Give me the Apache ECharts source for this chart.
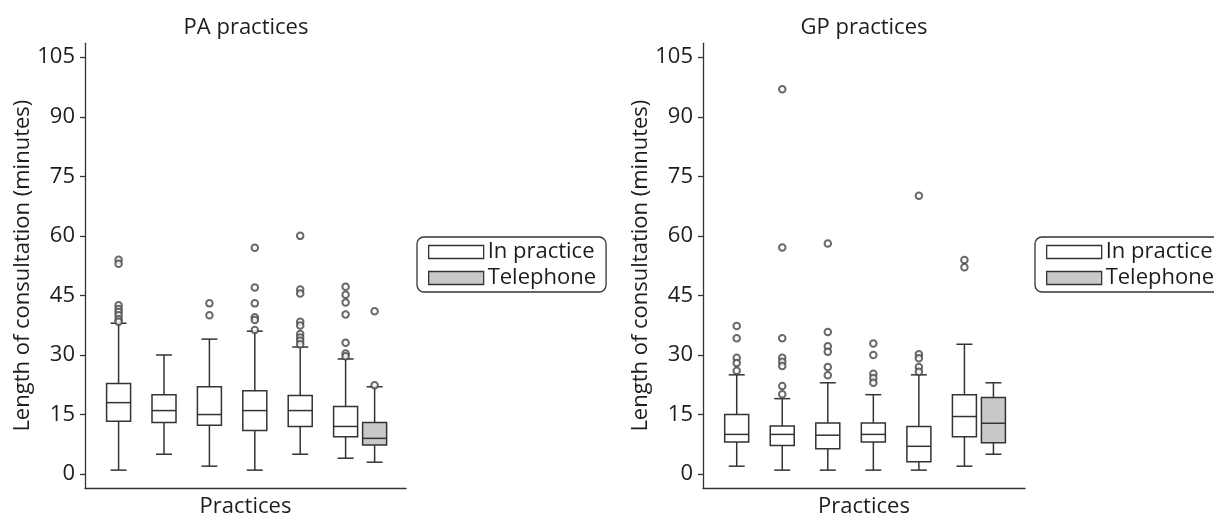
<!DOCTYPE html>
<html>
<head>
<meta charset="utf-8">
<script src="https://cdn.jsdelivr.net/npm/echarts@6/dist/echarts.min.js"></script>
<style>
  html, body { margin: 0; padding: 0; background: #fff; }
  #main { width: 1214px; height: 516px; }
</style>
</head>
<body>
<div id="main"></div>
<script>
	// practice numbers on the x axis
	var practices = [1, 2, 3, 4, 5, 6];
	var telPractices = [6];
	var yTicks = [0, 15, 30, 45, 60, 75, 90, 105];

	// box stats per practice: [low whisker, Q1, median, Q3, high whisker]
	var paInPractice = [
		[1, 13.3, 18, 22.8, 38],
		[5, 13, 16, 20, 30],
		[2, 12.3, 15, 22, 34],
		[1, 11, 16, 21, 36],
		[5, 12, 16, 19.8, 32],
		[4, 9.4, 12, 17, 29]
	];
	var paTelephone = [[3, 7.3, 9, 13, 22]];
	var paInOutliers = [
		[54, 53, 42.5, 41.6, 40.8, 40, 39, 38.4],
		[],
		[43, 40],
		[57, 47, 43, 39.5, 38.8, 36.3],
		[60, 46.5, 45.5, 38.4, 37.4, 35.3, 34.4, 33.6, 32.7],
		[47.2, 45.2, 43.2, 40.2, 33.1, 30.4, 29.7]
	];
	var paTelOutliers = [[41, 22.4]];

	var gpInPractice = [
		[2, 8.1, 10, 15, 25],
		[1, 7.2, 10, 12.1, 19],
		[1, 6.4, 9.8, 12.9, 23],
		[1, 8.1, 10, 12.9, 20],
		[1, 3.1, 7, 12, 25],
		[2, 9.4, 14.5, 20, 32.7]
	];
	var gpTelephone = [[5, 7.9, 12.8, 19.3, 23]];
	var gpInOutliers = [
		[37.3, 34.2, 29.3, 28, 26],
		[96.9, 57.1, 34.2, 29.3, 28.3, 27.2, 22.2, 20.1],
		[58.1, 35.8, 32.2, 30.8, 27, 24.9],
		[32.9, 30, 25.3, 24.2, 23],
		[70.1, 30.2, 29.2, 27, 25.8],
		[53.9, 52.1]
	];
	var gpTelOutliers = [[]];

	var INK = '#333';
	var TEXT = '#1e1c1d';
	var FONT = 'Open Sans';
	var FS = 22;
	var BOX_W = 24, CAP_W = 16, TEL_DODGE = 29;

	function boxData(pos, stats) {
		return stats.map(function (s, i) { return [pos[i]].concat(s); });
	}
	function outlierData(pos, lists) {
		var out = [];
		lists.forEach(function (l, i) {
			l.forEach(function (v) { out.push([pos[i], v]); });
		});
		return out;
	}

	function renderBox(dodge, fill) {
		return function (params, api) {
			var x = api.coord([api.value(0), 0])[0] + dodge;
			var lo = api.coord([0, api.value(1)])[1];
			var q1 = api.coord([0, api.value(2)])[1];
			var md = api.coord([0, api.value(3)])[1];
			var q3 = api.coord([0, api.value(4)])[1];
			var hi = api.coord([0, api.value(5)])[1];
			var st = { stroke: INK, lineWidth: 1.5, fill: null };
			return {
				type: 'group',
				children: [
					{ type: 'line', shape: { x1: x, y1: lo, x2: x, y2: q1 }, style: st },
					{ type: 'line', shape: { x1: x, y1: q3, x2: x, y2: hi }, style: st },
					{ type: 'line', shape: { x1: x - CAP_W / 2, y1: lo, x2: x + CAP_W / 2, y2: lo }, style: st },
					{ type: 'line', shape: { x1: x - CAP_W / 2, y1: hi, x2: x + CAP_W / 2, y2: hi }, style: st },
					{ type: 'rect', shape: { x: x - BOX_W / 2, y: q3, width: BOX_W, height: q1 - q3 },
						style: { stroke: INK, lineWidth: 1.5, fill: fill } },
					{ type: 'line', shape: { x1: x - BOX_W / 2, y1: md, x2: x + BOX_W / 2, y2: md }, style: st }
				]
			};
		};
	}

	function panelSeries(g, inStats, telStats, inOut, telOut) {
		return [
			{ name: 'In practice', type: 'custom', xAxisIndex: g, yAxisIndex: g,
				itemStyle: { color: '#fff', borderColor: INK },
				renderItem: renderBox(0, '#fff'), data: boxData(practices, inStats) },
			{ name: 'Telephone', type: 'custom', xAxisIndex: g, yAxisIndex: g,
				itemStyle: { color: '#c8c8c8', borderColor: INK },
				renderItem: renderBox(TEL_DODGE, '#c8c8c8'), data: boxData(telPractices, telStats) },
			{ name: 'out-in', type: 'scatter', xAxisIndex: g, yAxisIndex: g,
				symbol: 'emptyCircle', symbolSize: 6.5,
				itemStyle: { color: '#444', borderWidth: 0.9 },
				data: outlierData(practices, inOut) },
			{ name: 'out-tel', type: 'scatter', xAxisIndex: g, yAxisIndex: g,
				symbol: 'emptyCircle', symbolSize: 6.5, symbolOffset: [TEL_DODGE, 0],
				itemStyle: { color: '#444', borderWidth: 0.9 },
				data: outlierData(telPractices, telOut) }
		];
	}

	function xAxis(g) {
		return {
			type: 'value', gridIndex: g, min: 0.26, max: 7.33,
			name: 'Practices', nameLocation: 'middle', nameGap: 8,
			nameTextStyle: { color: TEXT, fontSize: FS, fontFamily: FONT, verticalAlign: 'top' },
			axisLine: { show: true, onZero: false, lineStyle: { color: INK, width: 1.3 } },
			axisTick: { show: false }, axisLabel: { show: false }, splitLine: { show: false }
		};
	}
	function yAxis(g) {
		return {
			type: 'value', gridIndex: g, min: -3.5, max: 108.5,
			name: 'Length of consultation (minutes)', nameLocation: 'middle', nameGap: 50,
			nameTextStyle: { color: TEXT, fontSize: FS, fontFamily: FONT },
			axisLine: { show: true, lineStyle: { color: INK, width: 1.3 } },
			axisTick: { show: true, length: 5, customValues: yTicks, lineStyle: { color: INK, width: 1.3 } },
			axisLabel: { customValues: yTicks, margin: 10, color: TEXT, fontSize: FS, fontFamily: FONT },
			splitLine: { show: false }
		};
	}
	function legend(left) {
		return {
			orient: 'vertical', left: left, top: 237,
			itemWidth: 55, itemHeight: 13, itemGap: 4,
			padding: [4, 10, 3, 11],
			borderColor: INK, borderWidth: 1.3, borderRadius: 7,
			textStyle: { color: TEXT, fontSize: FS, fontFamily: FONT, padding: [0, 0, 0, -1] },
			data: [
				{ name: 'In practice', icon: 'rect', itemStyle: { color: '#fff', borderColor: INK, borderWidth: 1.3 } },
				{ name: 'Telephone', icon: 'rect', itemStyle: { color: '#c8c8c8', borderColor: INK, borderWidth: 1.3 } }
			]
		};
	}

	var myChart = echarts.init(document.getElementById('main'));
	var option = {
		animation: false,
		textStyle: { fontFamily: FONT },
		title: [
			{ text: 'PA practices', left: 246, top: 17, padding: 0, textAlign: 'center',
				textStyle: { color: TEXT, fontSize: FS, fontWeight: 'normal', fontFamily: FONT } },
			{ text: 'GP practices', left: 864, top: 17, padding: 0, textAlign: 'center',
				textStyle: { color: TEXT, fontSize: FS, fontWeight: 'normal', fontFamily: FONT } }
		],
		legend: [legend(417), legend(1035)],
		grid: [
			{ left: 85, top: 43.3, width: 321, height: 444.7, containLabel: false, outerBoundsMode: 'none' },
			{ left: 703, top: 43.3, width: 322, height: 444.7, containLabel: false, outerBoundsMode: 'none' }
		],
		xAxis: [xAxis(0), xAxis(1)],
		yAxis: [yAxis(0), yAxis(1)],
		series: panelSeries(0, paInPractice, paTelephone, paInOutliers, paTelOutliers)
			.concat(panelSeries(1, gpInPractice, gpTelephone, gpInOutliers, gpTelOutliers))
	};
	myChart.setOption(option);
</script>
</body>
</html>
